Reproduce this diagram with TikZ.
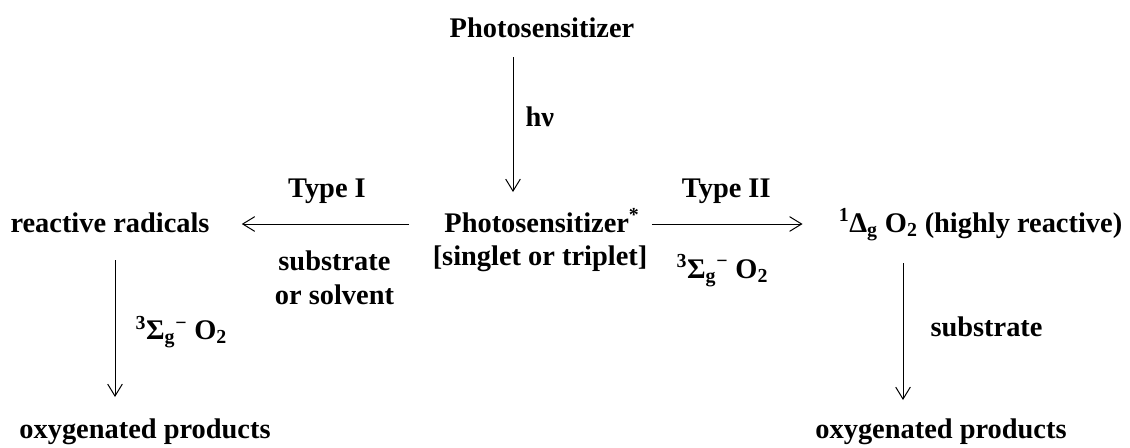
\documentclass[tikz,border=0pt]{standalone}
\usepackage{fontspec}
\setmainfont{Liberation Serif}
\usetikzlibrary{positioning,arrows.meta}

\begin{document}
\begin{tikzpicture}[
  x=0.75pt, y=-0.75pt,
  txt/.style={inner sep=0pt, font=\fontsize{21.3}{25.5}\selectfont\bfseries},
  lbl/.style={txt, align=center},
  arr/.style={-{Straight Barb[length=9pt,width=11pt]}, line width=0.75pt}
]
\useasboundingbox (0,0) rectangle (1130,447);
% species
\node[txt, anchor=base] (ps) at (542,37) {Photosensitizer};
\node[txt, anchor=base] (pss) at (542,232) {Photosensitizer\textsuperscript{*}};
\node[txt, anchor=base] (state) at (540,265) {[singlet or triplet]};
\node[txt, anchor=base] (rad) at (110,232) {reactive radicals};
\node[txt, anchor=base] (sing) at (980.5,232) {\textsuperscript{1}Δ\textsubscript{g} O\textsubscript{2} (highly reactive)};
\node[txt, anchor=base] (oxl) at (145,438) {oxygenated products};
\node[txt, anchor=base] (oxr) at (941,438) {oxygenated products};
% excitation
\draw[arr, shorten <=15pt, shorten >=30pt] ([xshift=-21.75pt]ps.base) -- ([xshift=-21.75pt]ps.base |- pss.base)
  node[txt, pos=0.41, right=9pt] {hν};
% type I
\draw[arr, shorten <=26.25pt, shorten >=24pt] ([yshift=6pt]pss.base west) -- ([yshift=6pt]pss.base west -| rad.east)
  node[txt, pos=0.5, anchor=base, yshift=20.25pt] {Type I}
  node[lbl, pos=0.468, anchor=north, yshift=-20pt] {substrate\\or solvent};
% type II
\draw[arr, shorten <=9pt, shorten >=27pt] ([yshift=6pt]pss.base east) -- ([yshift=6pt]pss.base east -| sing.west)
  node[txt, pos=0.435, anchor=base, yshift=20.25pt] {Type II}
  node[txt, pos=0.415, anchor=base, yshift=-40.5pt] {\textsuperscript{3}Σ\textsubscript{g}\textsuperscript{−} O\textsubscript{2}};
% products
\draw[arr, shorten <=21pt, shorten >=30.75pt] ([xshift=3.75pt]rad.base) -- ([xshift=3.75pt]rad.base |- oxl.base)
  node[txt, pos=0.485, right=15pt] {\textsuperscript{3}Σ\textsubscript{g}\textsuperscript{−} O\textsubscript{2}};
\draw[arr, shorten <=23.25pt, shorten >=28.5pt] ([xshift=-28.5pt]oxr.base |- sing.base) -- ([xshift=-28.5pt]oxr.base)
  node[txt, pos=0.461, right=20.25pt] {substrate};
\end{tikzpicture}
\end{document}
